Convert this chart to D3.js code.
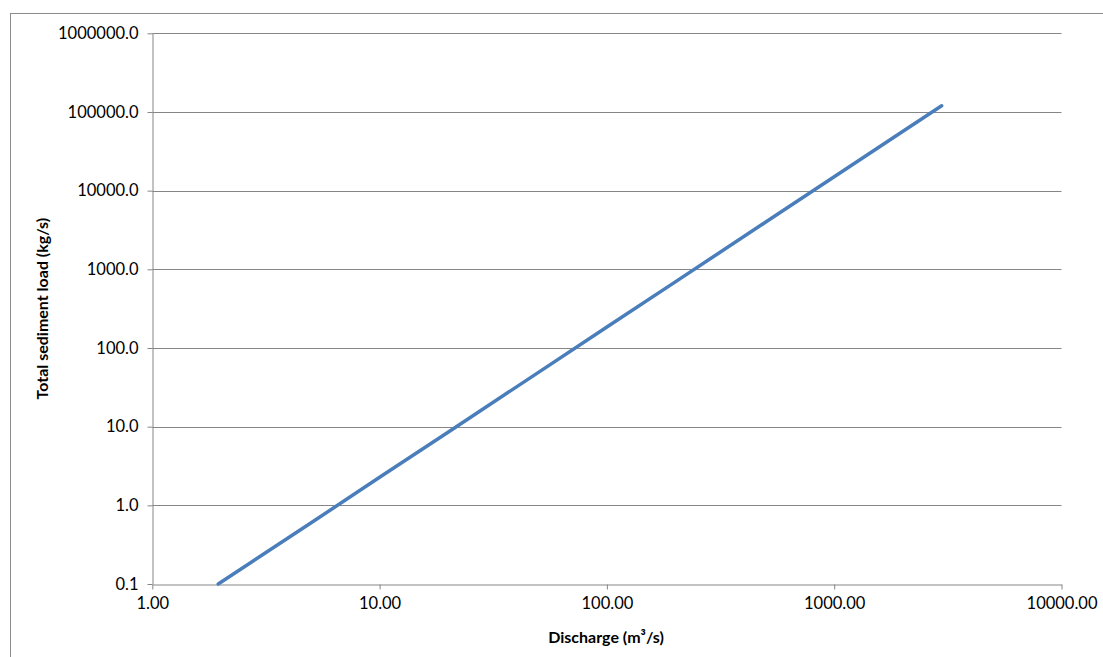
<!DOCTYPE html>
<html>
<head>
<meta charset="utf-8">
<script src="https://cdn.jsdelivr.net/npm/d3@7"></script>
<style>
  html, body { margin: 0; padding: 0; background: #fff; }
  svg { display: block; font-family: Lato, "Open Sans", sans-serif; }
</style>
</head>
<body>
<svg id="chart" width="1103" height="657"></svg>
<script>
// Rating curve: discharge (m³/s) vs total sediment load (kg/s)
const discharge = [1.95, 5, 10, 20, 50, 100, 200, 500, 1000, 2000, 2970];
const sedimentLoad = [0.1, 0.6, 2.27, 8.5, 49, 185, 693, 3990, 15000, 56400, 120000];

const xTicks = [1, 10, 100, 1000, 10000];
const yTicks = [0.1, 1, 10, 100, 1000, 10000, 100000, 1000000];

const xTitle = "Discharge (m³/s)";
const yTitle = "Total sediment load (kg/s)";

const svg = d3.select("#chart");
const margin = { left: 152.3, right: 1061.5, top: 33.3, bottom: 584 };

const x = d3.scaleLog().domain([1, 10000]).range([margin.left, margin.right]);
const y = d3.scaleLog().domain([0.1, 1000000]).range([margin.bottom, margin.top]);

// outer chart-area frame
svg.append("rect")
  .attr("x", 10.5).attr("y", 13.5)
  .attr("width", 1100).attr("height", 700)
  .attr("fill", "none").attr("stroke", "#8c8c8c").attr("stroke-width", 1);

// horizontal gridlines
svg.append("g")
  .selectAll("line")
  .data(yTicks.slice(1))
  .join("line")
  .attr("x1", margin.left).attr("x2", margin.right)
  .attr("y1", d => Math.round(y(d)) + 0.5).attr("y2", d => Math.round(y(d)) + 0.5)
  .attr("stroke", "#868686").attr("stroke-width", 1);

// y axis
const yAxis = svg.append("g")
  .attr("transform", `translate(${Math.round(margin.left) + 0.5},0)`)
  .call(d3.axisLeft(y).tickValues(yTicks).tickFormat(d3.format(".1f")).tickSize(5).tickPadding(9).tickSizeOuter(0));

// x axis
const xAxis = svg.append("g")
  .attr("transform", `translate(0,${Math.round(margin.bottom) + 0.5})`)
  .call(d3.axisBottom(x).tickValues(xTicks).tickFormat(d3.format(".2f")).tickSize(5).tickPadding(8).tickSizeOuter(0));

[yAxis, xAxis].forEach(a => {
  a.select(".domain").attr("stroke", "#868686");
  a.selectAll(".tick line").attr("stroke", "#868686");
  a.selectAll(".tick text").attr("fill", "#000").style("font-size", "16.5px")
    .style("font-family", "Lato, 'Open Sans', sans-serif");
});

// data line
const line = d3.line().x(d => x(d[0])).y(d => y(d[1]));
svg.append("path")
  .datum(d3.zip(discharge, sedimentLoad))
  .attr("d", line)
  .attr("fill", "none")
  .attr("stroke", "#4a7ebb")
  .attr("stroke-width", 3.5)
  .attr("stroke-linecap", "round");

// axis titles
svg.append("text")
  .attr("x", 606).attr("y", 643)
  .attr("text-anchor", "middle")
  .style("font-size", "16px").style("font-weight", "bold")
  .text(xTitle);

svg.append("text")
  .attr("transform", `translate(48,${(margin.top + margin.bottom) / 2}) rotate(-90)`)
  .attr("text-anchor", "middle")
  .style("font-size", "16px").style("font-weight", "bold")
  .text(yTitle);
</script>
</body>
</html>
